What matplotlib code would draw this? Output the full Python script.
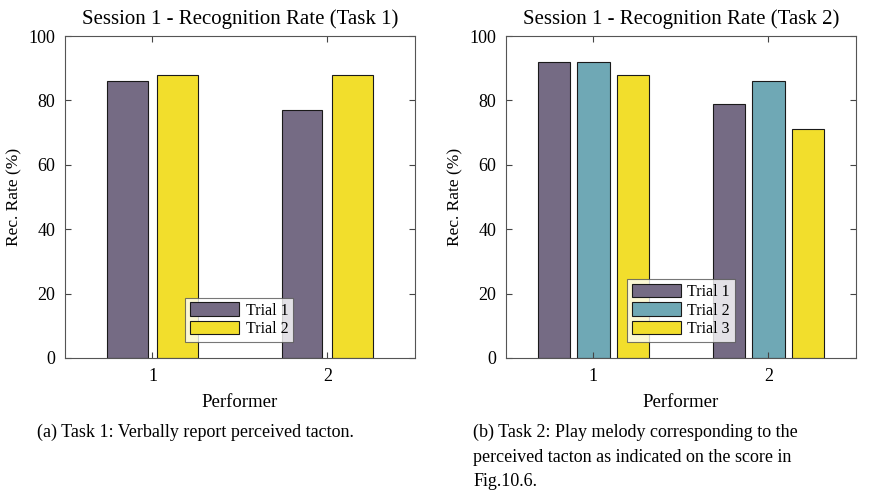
import numpy as np
import matplotlib.pyplot as plt

plt.rcParams['font.family'] = ['Liberation Serif', 'DejaVu Serif']

performers = [1, 2]
task1_trials = ['Trial 1', 'Trial 2']
task1_rates = [[86, 77], [88, 88]]
task2_trials = ['Trial 1', 'Trial 2', 'Trial 3']
task2_rates = [[92, 79], [92, 86], [88, 71]]

colors = ['#756b84', '#6fa8b5', '#f2de2c']
task1_colors = [colors[0], colors[2]]

fig = plt.figure(figsize=(8.76, 5.0), dpi=100)
ax1 = fig.add_axes([0.0742, 0.284, 0.3995, 0.644])
ax2 = fig.add_axes([0.5776, 0.284, 0.3995, 0.644])


def grouped_bars(ax, rates, labels, cols, width, step, title, legend_anchor):
    x = np.array(performers, dtype=float)
    n = len(rates)
    for i, (vals, lab, c) in enumerate(zip(rates, labels, cols)):
        off = (i - (n - 1) / 2) * step
        ax.bar(x + off, vals, width, color=c, edgecolor='#1a1a1a',
               linewidth=0.8, label=lab)
    ax.set_xlim(0.5, 2.5)
    ax.set_ylim(0, 100)
    ax.set_xticks(performers)
    ax.set_yticks([0, 20, 40, 60, 80, 100])
    ax.tick_params(direction='in', top=True, right=True, labelsize=13,
                   color='#444444', length=4, pad=7)
    for s in ax.spines.values():
        s.set_color('#555555')
        s.set_linewidth(0.8)
    ax.set_title(title, fontsize=15, pad=9)
    ax.set_xlabel('Performer', fontsize=13.5, labelpad=7)
    ax.set_ylabel('Rec. Rate (%)', fontsize=12.5, labelpad=4)
    leg = ax.legend(loc='lower left', bbox_to_anchor=legend_anchor, fontsize=11.5,
                    frameon=True, fancybox=False, edgecolor='#555555',
                    handlelength=3.1, handleheight=0.9, handletextpad=0.4,
                    labelspacing=0.15, borderpad=0.3, borderaxespad=0)
    leg.get_frame().set_linewidth(0.8)


grouped_bars(ax1, task1_rates, task1_trials, task1_colors, 0.229, 0.286,
             'Session 1 - Recognition Rate (Task 1)', (0.343, 0.05))
grouped_bars(ax2, task2_rates, task2_trials, colors, 0.184, 0.224,
             'Session 1 - Recognition Rate (Task 2)', (0.345, 0.05))

fig.text(0.042, 0.136, '(a) Task 1: Verbally report perceived tacton.',
         fontsize=13, va='center', ha='left')
fig.text(0.540, 0.136, '(b) Task 2: Play melody corresponding to the',
         fontsize=13, va='center', ha='left')
fig.text(0.540, 0.086, 'perceived tacton as indicated on the score in',
         fontsize=13, va='center', ha='left')
fig.text(0.540, 0.036, 'Fig.10.6.', fontsize=13, va='center', ha='left')

fig.savefig('out.png', dpi=100)
